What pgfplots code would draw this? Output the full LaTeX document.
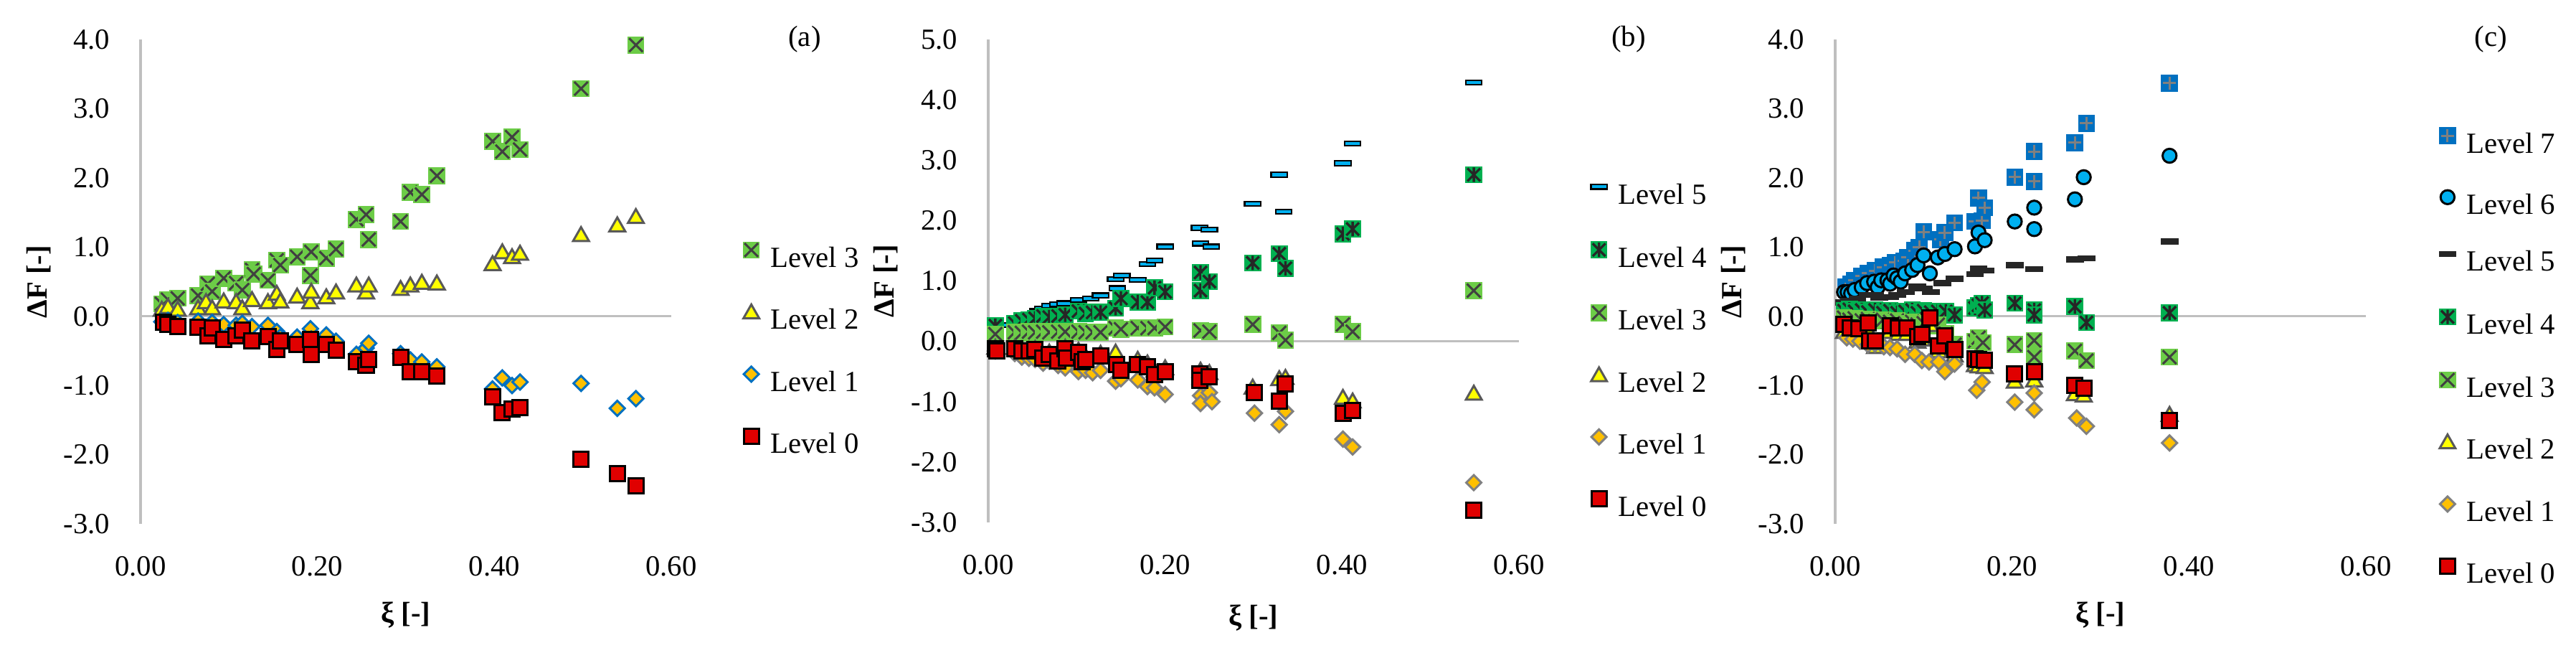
\documentclass[border=0pt]{standalone}
\usepackage{fontspec}
\setmainfont{Liberation Serif}
\usepackage{pgfplots}
\pgfplotsset{compat=1.18}

\definecolor{lvl0}{HTML}{E00000}
\definecolor{lvl1}{HTML}{FFC000}
\definecolor{lvl2}{HTML}{FFFF00}
\definecolor{lvl3}{HTML}{6CCC47}
\definecolor{lvl4}{HTML}{00B050}
\definecolor{lvl6}{HTML}{00B0F0}
\definecolor{lvl7}{HTML}{0070C0}
\definecolor{axgray}{HTML}{BFBFBF}
\definecolor{edgegray}{HTML}{808080}
\definecolor{darkedge}{HTML}{595959}
\definecolor{xgray}{HTML}{404040}
\definecolor{nearblack}{HTML}{262626}

% Excel-like markers
\pgfdeclareplotmark{sqx}{%
  \pgfpathrectangle{\pgfqpoint{-\pgfplotmarksize}{-\pgfplotmarksize}}{\pgfqpoint{2\pgfplotmarksize}{2\pgfplotmarksize}}%
  \pgfusepathqfill
  \pgfpathmoveto{\pgfqpoint{-0.8\pgfplotmarksize}{-0.8\pgfplotmarksize}}%
  \pgfpathlineto{\pgfqpoint{0.8\pgfplotmarksize}{0.8\pgfplotmarksize}}%
  \pgfpathmoveto{\pgfqpoint{-0.8\pgfplotmarksize}{0.8\pgfplotmarksize}}%
  \pgfpathlineto{\pgfqpoint{0.8\pgfplotmarksize}{-0.8\pgfplotmarksize}}%
  \pgfusepathqstroke}
\pgfdeclareplotmark{sqstar}{%
  \pgfpathrectangle{\pgfqpoint{-\pgfplotmarksize}{-\pgfplotmarksize}}{\pgfqpoint{2\pgfplotmarksize}{2\pgfplotmarksize}}%
  \pgfusepathqfill
  \pgfpathmoveto{\pgfqpoint{-0.75\pgfplotmarksize}{-0.75\pgfplotmarksize}}%
  \pgfpathlineto{\pgfqpoint{0.75\pgfplotmarksize}{0.75\pgfplotmarksize}}%
  \pgfpathmoveto{\pgfqpoint{-0.75\pgfplotmarksize}{0.75\pgfplotmarksize}}%
  \pgfpathlineto{\pgfqpoint{0.75\pgfplotmarksize}{-0.75\pgfplotmarksize}}%
  \pgfpathmoveto{\pgfqpoint{0pt}{-0.85\pgfplotmarksize}}%
  \pgfpathlineto{\pgfqpoint{0pt}{0.85\pgfplotmarksize}}%
  \pgfusepathqstroke}
\pgfdeclareplotmark{sqplus}{%
  \pgfpathrectangle{\pgfqpoint{-\pgfplotmarksize}{-\pgfplotmarksize}}{\pgfqpoint{2\pgfplotmarksize}{2\pgfplotmarksize}}%
  \pgfusepathqfill
  \pgfpathmoveto{\pgfqpoint{-0.75\pgfplotmarksize}{0pt}}%
  \pgfpathlineto{\pgfqpoint{0.75\pgfplotmarksize}{0pt}}%
  \pgfpathmoveto{\pgfqpoint{0pt}{-0.75\pgfplotmarksize}}%
  \pgfpathlineto{\pgfqpoint{0pt}{0.75\pgfplotmarksize}}%
  \pgfusepathqstroke}
\pgfdeclareplotmark{dmd}{%
  \pgfpathmoveto{\pgfqpoint{0pt}{\pgfplotmarksize}}%
  \pgfpathlineto{\pgfqpoint{\pgfplotmarksize}{0pt}}%
  \pgfpathlineto{\pgfqpoint{0pt}{-\pgfplotmarksize}}%
  \pgfpathlineto{\pgfqpoint{-\pgfplotmarksize}{0pt}}%
  \pgfpathclose
  \pgfusepathqfillstroke}
\pgfdeclareplotmark{tri}{%
  \pgfpathmoveto{\pgfqpoint{0pt}{0.95\pgfplotmarksize}}%
  \pgfpathlineto{\pgfqpoint{\pgfplotmarksize}{-0.8\pgfplotmarksize}}%
  \pgfpathlineto{\pgfqpoint{-\pgfplotmarksize}{-0.8\pgfplotmarksize}}%
  \pgfpathclose
  \pgfusepathqfillstroke}
\pgfdeclareplotmark{dsh}{%
  \pgfpathrectangle{\pgfqpoint{-\pgfplotmarksize}{-0.28\pgfplotmarksize}}{\pgfqpoint{2\pgfplotmarksize}{0.56\pgfplotmarksize}}%
  \pgfusepathqfillstroke}

\newcommand{\chartfont}{\fontsize{11.6}{13}\selectfont}

\pgfplotsset{
  panel/.style={
    scale only axis, width=74mm, height=67.5mm,
    xmin=0, xmax=0.6,
    axis line style={draw=none}, major tick length=0pt, tick style={draw=none},
    xtick={0,0.2,0.4,0.6}, xticklabels={0.00,0.20,0.40,0.60},
    font=\chartfont,
    xticklabel style={font=\chartfont, inner sep=0pt, anchor=north, yshift=-4.5mm},
    yticklabel style={font=\chartfont, inner sep=0pt, anchor=east, xshift=-4.2mm},
    label style={font=\chartfont\bfseries},
    xlabel={ξ [-]}, ylabel={ΔF [-]},
    clip=false,
    legend cell align=left,
    legend image code/.code={\draw[##1] plot coordinates {(0mm,1.35mm)};},
    legend style={draw=none, fill=none, inner sep=0pt, font=\chartfont,
      row sep=4.6mm, column sep=1.5mm,
      nodes={inner sep=0pt, text height=2.7mm, text depth=0.6mm}},
  },
  L0/.style={only marks, mark=square*, mark size=1.05mm,
    mark options={fill=lvl0, draw=black, line width=0.3mm}},
  L1a/.style={only marks, mark=dmd, mark size=1.05mm,
    mark options={fill=lvl1, draw=lvl7, line width=0.3mm}},
  L1/.style={only marks, mark=dmd, mark size=1.05mm,
    mark options={fill=lvl1, draw=edgegray, line width=0.3mm}},
  L2/.style={only marks, mark=tri, mark size=1.1mm,
    mark options={fill=lvl2, draw=darkedge, line width=0.3mm}},
  L3/.style={only marks, mark=sqx, mark size=1.18mm,
    mark options={fill=lvl3, draw=xgray, line width=0.3mm}},
  L4/.style={only marks, mark=sqstar, mark size=1.18mm,
    mark options={fill=lvl4, draw=nearblack, line width=0.33mm}},
  L5b/.style={only marks, mark=dsh, mark size=1.12mm,
    mark options={fill=lvl6, draw=black, line width=0.22mm}},
  L5c/.style={only marks, mark=dsh, mark size=1.12mm,
    mark options={fill=nearblack, draw=nearblack, line width=0.22mm}},
  L6/.style={only marks, mark=*, mark size=0.97mm,
    mark options={fill=lvl6, draw=black, line width=0.3mm}},
  L7/.style={only marks, mark=sqplus, mark size=1.18mm,
    mark options={fill=lvl7, draw=edgegray, line width=0.3mm}},
}

\begin{document}
\begin{tikzpicture}
\path[use as bounding box] (0,0) rectangle (359.2mm,-90.2mm);

% ---------------- panel (a)
\begin{axis}[panel, at={(19.6mm,-73.0mm)}, anchor=south west,
  ymin=-3, ymax=4, ytick={-3,-2,...,4},
  yticklabels={-3.0,-2.0,-1.0,0.0,1.0,2.0,3.0,4.0},
  xlabel style={at={(axis description cs:0.5,-0.188)}, anchor=center},
  ylabel style={at={(axis description cs:-0.192,0.5)}, anchor=center},
  legend style={at={(axis description cs:1.134,0.584)}, anchor=north west},
]
\draw[axgray, line width=0.33mm] (axis cs:0,-3) -- (axis cs:0,4);
\draw[axgray, line width=0.33mm] (axis cs:0,0) -- (axis cs:0.6,0);
\addplot[L3] coordinates {
(0.024,0.18)(0.031,0.24)(0.042,0.26)(0.065,0.30)(0.076,0.47)(0.081,0.36)(0.094,0.55)(0.108,0.48)
(0.115,0.38)(0.126,0.67)(0.128,0.61)(0.144,0.52)(0.154,0.81)(0.158,0.74)(0.177,0.86)(0.192,0.59)
(0.193,0.93)(0.210,0.84)(0.221,0.97)(0.244,1.40)(0.255,1.47)(0.258,1.11)(0.294,1.37)(0.305,1.79)
(0.318,1.76)(0.335,2.03)(0.398,2.53)(0.409,2.38)(0.420,2.59)(0.429,2.41)(0.498,3.29)(0.560,3.92)};
\addlegendentry{Level 3}
\addplot[L2] coordinates {
(0.024,0.10)(0.031,0.14)(0.042,0.10)(0.065,0.12)(0.074,0.21)(0.081,0.12)(0.094,0.22)(0.108,0.21)
(0.115,0.12)(0.126,0.24)(0.144,0.21)(0.154,0.33)(0.158,0.22)(0.177,0.29)(0.192,0.21)(0.193,0.36)
(0.210,0.28)(0.221,0.35)(0.244,0.45)(0.255,0.35)(0.258,0.45)(0.294,0.40)(0.305,0.45)(0.318,0.49)
(0.335,0.48)(0.398,0.76)(0.409,0.93)(0.420,0.86)(0.429,0.91)(0.498,1.18)(0.539,1.32)(0.560,1.44)};
\addlegendentry{Level 2}
\addplot[L1a] coordinates {
(0.024,-0.08)(0.031,-0.06)(0.042,-0.09)(0.065,-0.07)(0.076,-0.15)(0.081,-0.09)(0.094,-0.12)(0.108,-0.13)
(0.115,-0.10)(0.126,-0.15)(0.144,-0.13)(0.154,-0.22)(0.158,-0.30)(0.177,-0.30)(0.192,-0.18)(0.193,-0.33)
(0.210,-0.27)(0.221,-0.36)(0.244,-0.55)(0.255,-0.46)(0.258,-0.39)(0.294,-0.54)(0.305,-0.63)(0.318,-0.66)
(0.335,-0.73)(0.398,-1.05)(0.409,-0.89)(0.420,-1.00)(0.429,-0.95)(0.498,-0.97)(0.539,-1.33)(0.560,-1.19)};
\addlegendentry{Level 1}
\addplot[L0] coordinates {
(0.026,-0.09)(0.031,-0.12)(0.042,-0.15)(0.065,-0.16)(0.076,-0.28)(0.081,-0.17)(0.094,-0.33)(0.108,-0.28)
(0.115,-0.20)(0.126,-0.35)(0.144,-0.29)(0.154,-0.48)(0.158,-0.35)(0.177,-0.41)(0.192,-0.33)(0.193,-0.55)
(0.210,-0.41)(0.221,-0.49)(0.244,-0.66)(0.255,-0.71)(0.258,-0.62)(0.294,-0.59)(0.305,-0.80)(0.318,-0.80)
(0.335,-0.86)(0.398,-1.16)(0.409,-1.39)(0.420,-1.34)(0.429,-1.32)(0.498,-2.07)(0.539,-2.27)(0.560,-2.45)};
\addlegendentry{Level 0}
\end{axis}
\node[font=\chartfont] at (112.2mm,-5.5mm) {(a)};

% ---------------- panel (b)
\begin{axis}[panel, at={(137.8mm,-72.8mm)}, anchor=south west,
  height=67.3mm,
  ymin=-3, ymax=5, ytick={-3,-2,...,5},
  yticklabels={-3.0,-2.0,-1.0,0.0,1.0,2.0,3.0,4.0,5.0},
  xlabel style={at={(axis description cs:0.5,-0.198)}, anchor=center},
  ylabel style={at={(axis description cs:-0.193,0.5)}, anchor=center},
  legend style={at={(axis description cs:1.134,0.7006)}, anchor=north west},
]
\draw[axgray, line width=0.33mm] (axis cs:0,-3) -- (axis cs:0,5);
\draw[axgray, line width=0.33mm] (axis cs:0,0) -- (axis cs:0.6,0);
\addplot[L5b] coordinates {
(0.008,0.22)(0.020,0.27)(0.031,0.34)(0.039,0.37)(0.046,0.42)(0.056,0.50)(0.062,0.54)(0.070,0.59)
(0.079,0.61)(0.087,0.63)(0.102,0.68)(0.116,0.71)(0.127,0.76)(0.144,1.03)(0.146,0.88)(0.151,1.09)
(0.169,1.02)(0.180,1.28)(0.188,1.34)(0.200,1.57)(0.239,1.88)(0.240,1.62)(0.250,1.85)(0.252,1.57)
(0.299,2.28)(0.329,2.76)(0.334,2.15)(0.401,2.95)(0.412,3.28)(0.549,4.29)};
\addlegendentry{Level 5}
\addplot[L4] coordinates {
(0.008,0.26)(0.030,0.30)(0.038,0.34)(0.046,0.36)(0.053,0.38)(0.062,0.42)(0.069,0.40)(0.079,0.42)
(0.087,0.44)(0.102,0.50)(0.110,0.46)(0.118,0.48)(0.127,0.48)(0.144,0.55)(0.150,0.71)(0.169,0.65)
(0.180,0.65)(0.188,0.89)(0.200,0.82)(0.240,1.14)(0.240,0.84)(0.250,0.99)(0.299,1.30)(0.329,1.45)
(0.336,1.21)(0.401,1.78)(0.412,1.86)(0.549,2.76)};
\addlegendentry{Level 4}
\addplot[L3] coordinates {
(0.008,0.12)(0.030,0.15)(0.038,0.14)(0.046,0.16)(0.053,0.15)(0.062,0.16)(0.069,0.15)(0.079,0.16)
(0.087,0.16)(0.102,0.16)(0.110,0.15)(0.118,0.15)(0.127,0.15)(0.144,0.22)(0.150,0.20)(0.169,0.22)
(0.180,0.22)(0.188,0.22)(0.200,0.24)(0.240,0.18)(0.250,0.16)(0.299,0.28)(0.329,0.14)(0.336,0.02)
(0.401,0.28)(0.412,0.16)(0.549,0.84)};
\addlegendentry{Level 3}
\addplot[L2] coordinates {
(0.008,-0.10)(0.030,-0.10)(0.038,-0.13)(0.046,-0.14)(0.053,-0.12)(0.062,-0.22)(0.069,-0.18)(0.079,-0.26)
(0.087,-0.10)(0.102,-0.15)(0.110,-0.25)(0.127,-0.20)(0.144,-0.18)(0.150,-0.40)(0.169,-0.30)(0.180,-0.36)
(0.188,-0.48)(0.200,-0.44)(0.240,-0.48)(0.240,-0.60)(0.250,-0.52)(0.299,-0.76)(0.329,-0.62)(0.336,-0.60)
(0.401,-0.93)(0.412,-0.99)(0.549,-0.86)};
\addlegendentry{Level 2}
\addplot[L1] coordinates {
(0.008,-0.16)(0.030,-0.20)(0.038,-0.26)(0.046,-0.28)(0.053,-0.30)(0.062,-0.36)(0.069,-0.33)(0.079,-0.40)
(0.087,-0.44)(0.102,-0.50)(0.110,-0.48)(0.118,-0.52)(0.127,-0.48)(0.144,-0.66)(0.150,-0.62)(0.169,-0.64)
(0.180,-0.75)(0.188,-0.77)(0.200,-0.88)(0.240,-0.90)(0.240,-1.03)(0.250,-0.85)(0.253,-1.00)(0.301,-1.19)
(0.329,-1.38)(0.336,-1.16)(0.401,-1.62)(0.412,-1.75)(0.549,-2.34)};
\addlegendentry{Level 1}
\addplot[L0] coordinates {
(0.008,-0.12)(0.010,-0.16)(0.030,-0.12)(0.038,-0.16)(0.046,-0.16)(0.053,-0.14)(0.062,-0.28)(0.069,-0.22)
(0.079,-0.32)(0.087,-0.12)(0.088,-0.28)(0.102,-0.18)(0.106,-0.34)(0.110,-0.30)(0.127,-0.24)(0.145,-0.38)
(0.150,-0.48)(0.169,-0.38)(0.180,-0.42)(0.188,-0.55)(0.200,-0.50)(0.239,-0.54)(0.239,-0.65)(0.250,-0.59)
(0.301,-0.85)(0.329,-0.99)(0.336,-0.71)(0.401,-1.19)(0.412,-1.15)(0.549,-2.80)};
\addlegendentry{Level 0}
\end{axis}
\node[font=\chartfont] at (227.1mm,-5.5mm) {(b)};

% ---------------- panel (c)
\begin{axis}[panel, at={(255.9mm,-73.0mm)}, anchor=south west,
  ymin=-3, ymax=4, ytick={-3,-2,...,4},
  yticklabels={-3.0,-2.0,-1.0,0.0,1.0,2.0,3.0,4.0},
  xlabel style={at={(axis description cs:0.5,-0.188)}, anchor=center},
  ylabel style={at={(axis description cs:-0.192,0.5)}, anchor=center},
  legend style={at={(axis description cs:1.137,0.82)}, anchor=north west},
]
\draw[axgray, line width=0.33mm] (axis cs:0,-3) -- (axis cs:0,4);
\draw[axgray, line width=0.33mm] (axis cs:0,0) -- (axis cs:0.6,0);
\addplot[L7] coordinates {
(0.012,0.42)(0.018,0.47)(0.022,0.52)(0.030,0.58)(0.037,0.62)(0.045,0.66)(0.054,0.71)(0.062,0.74)
(0.068,0.78)(0.078,0.80)(0.082,0.85)(0.090,0.95)(0.095,1.00)(0.100,1.22)(0.119,1.11)(0.124,1.21)
(0.135,1.35)(0.158,1.37)(0.166,1.38)(0.162,1.71)(0.169,1.57)(0.203,2.01)(0.225,2.38)(0.225,1.95)
(0.271,2.51)(0.284,2.79)(0.378,3.37)};
\addlegendentry{Level 7}
\addplot[L6] coordinates {
(0.010,0.35)(0.014,0.35)(0.018,0.33)(0.022,0.38)(0.030,0.42)(0.036,0.48)(0.044,0.50)(0.048,0.42)
(0.052,0.52)(0.059,0.52)(0.062,0.47)(0.066,0.59)(0.070,0.55)(0.074,0.50)(0.079,0.62)(0.087,0.67)
(0.093,0.74)(0.100,0.88)(0.107,0.62)(0.116,0.85)(0.124,0.90)(0.135,0.97)(0.158,1.01)(0.162,1.21)
(0.169,1.10)(0.203,1.37)(0.225,1.57)(0.225,1.26)(0.271,1.69)(0.281,2.01)(0.378,2.32)};
\addlegendentry{Level 6}
\addplot[L5c] coordinates {
(0.010,0.20)(0.016,0.22)(0.025,0.25)(0.037,0.31)(0.045,0.31)(0.050,0.27)(0.055,0.28)(0.062,0.28)
(0.070,0.31)(0.080,0.35)(0.093,0.43)(0.100,0.40)(0.108,0.35)(0.121,0.48)(0.135,0.54)(0.158,0.61)
(0.162,0.69)(0.170,0.66)(0.203,0.74)(0.225,0.68)(0.271,0.82)(0.284,0.84)(0.378,1.08)};
\addlegendentry{Level 5}
\addplot[L4] coordinates {
(0.010,0.08)(0.016,0.10)(0.022,0.07)(0.030,0.09)(0.037,0.06)(0.045,0.09)(0.054,0.05)(0.062,0.08)
(0.070,0.05)(0.079,0.07)(0.087,0.09)(0.093,0.05)(0.100,0.08)(0.108,0.06)(0.116,0.07)(0.125,0.07)
(0.135,0.02)(0.158,0.12)(0.162,0.16)(0.166,0.19)(0.169,0.09)(0.203,0.19)(0.225,0.09)(0.225,0.02)
(0.271,0.14)(0.284,-0.09)(0.378,0.05)};
\addlegendentry{Level 4}
\addplot[L3] coordinates {
(0.010,-0.02)(0.016,-0.05)(0.022,-0.03)(0.030,-0.06)(0.037,-0.04)(0.045,-0.07)(0.054,-0.05)(0.062,-0.08)
(0.070,-0.06)(0.079,-0.10)(0.087,-0.08)(0.093,-0.12)(0.100,-0.10)(0.108,-0.14)(0.116,-0.12)(0.125,-0.25)
(0.135,-0.41)(0.158,-0.36)(0.162,-0.31)(0.167,-0.38)(0.203,-0.41)(0.225,-0.35)(0.225,-0.59)(0.271,-0.50)
(0.284,-0.64)(0.378,-0.59)};
\addlegendentry{Level 3}
\addplot[L2] coordinates {
(0.010,-0.22)(0.017,-0.25)(0.027,-0.26)(0.037,-0.20)(0.045,-0.44)(0.062,-0.22)(0.071,-0.25)(0.081,-0.25)
(0.093,-0.36)(0.098,-0.33)(0.107,-0.12)(0.117,-0.50)(0.124,-0.36)(0.135,-0.56)(0.158,-0.70)(0.162,-0.72)
(0.169,-0.73)(0.203,-0.94)(0.225,-0.92)(0.271,-1.12)(0.281,-1.14)(0.378,-1.42)};
\addlegendentry{Level 2}
\addplot[L1] coordinates {
(0.013,-0.31)(0.020,-0.33)(0.028,-0.36)(0.037,-0.41)(0.045,-0.40)(0.055,-0.44)(0.062,-0.45)(0.070,-0.47)
(0.079,-0.55)(0.090,-0.55)(0.098,-0.64)(0.106,-0.66)(0.117,-0.66)(0.124,-0.80)(0.135,-0.69)(0.160,-1.07)
(0.166,-0.95)(0.203,-1.24)(0.225,-1.11)(0.225,-1.35)(0.273,-1.47)(0.284,-1.59)(0.378,-1.83)};
\addlegendentry{Level 1}
\addplot[L0] coordinates {
(0.010,-0.12)(0.017,-0.17)(0.027,-0.18)(0.037,-0.10)(0.039,-0.35)(0.045,-0.36)(0.062,-0.14)(0.071,-0.17)
(0.081,-0.17)(0.093,-0.29)(0.098,-0.26)(0.107,-0.02)(0.117,-0.43)(0.124,-0.28)(0.135,-0.48)(0.158,-0.61)
(0.162,-0.62)(0.169,-0.63)(0.203,-0.83)(0.225,-0.80)(0.271,-1.00)(0.281,-1.04)(0.378,-1.51)};
\addlegendentry{Level 0}
\end{axis}
\node[font=\chartfont] at (347.3mm,-5.5mm) {(c)};
\end{tikzpicture}
\end{document}
